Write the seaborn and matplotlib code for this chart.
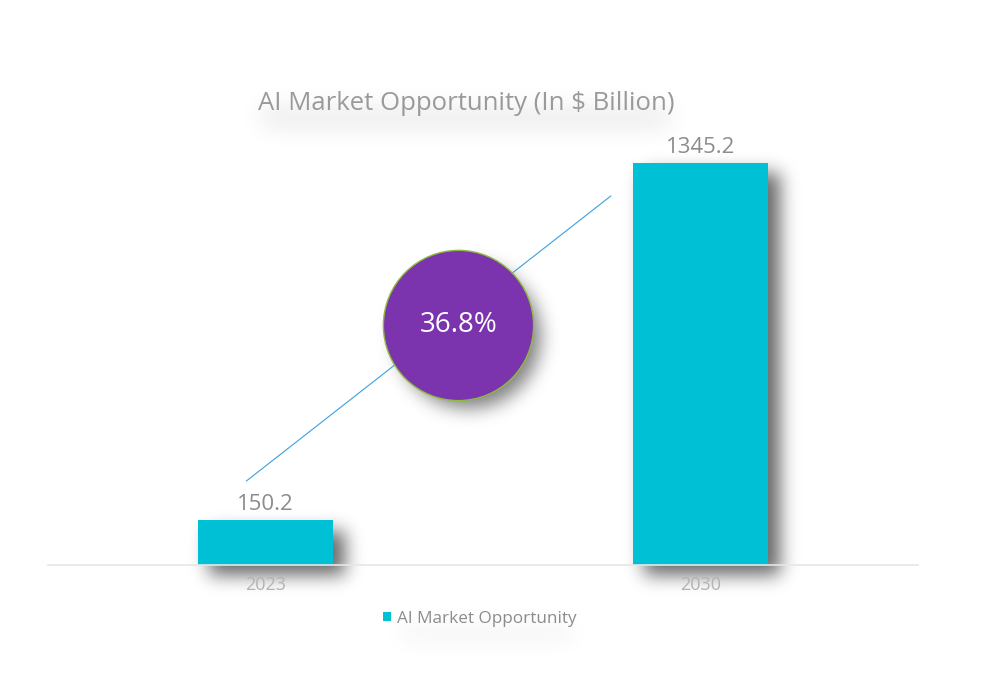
import numpy as np
import pandas as pd
import seaborn as sns
import matplotlib.pyplot as plt

# data
years = ['2023', '2030']
values = [150.2, 1345.2]
series_name = 'AI Market Opportunity'
title = 'AI Market Opportunity (In $ Billion)'
cagr_label = '36.8%'

bar_color = '#00C0D6'

sns.set_theme(style='white')
plt.rcParams['font.family'] = ['Open Sans', 'DejaVu Sans']

df = pd.DataFrame({'year': years, 'value': values})

W, H = 998, 698
fig = plt.figure(figsize=(W / 100, H / 100), dpi=100)
ax = fig.add_axes([48 / W, 133 / H, 870 / W, 505 / H])
ax.patch.set_alpha(0)

sns.barplot(data=df, x='year', y='value', color=bar_color, saturation=1, width=0.312,
            label=series_name, linewidth=0, ax=ax)
ymax = values[1] * 505 / 402
ax.set_xlim(-0.5, 1.5)
ax.set_ylim(0, ymax)

# value labels
for i, v in enumerate(values):
    ax.text(i, v + ymax * 0.01, f'{v:.1f}', ha='center', va='bottom', fontsize=16, color='#8c8c8c')

# growth line and CAGR bubble
line_x = [-0.044, 0.794]
line_y = [281, 1235]
ax.plot(line_x, line_y, color='#3aa0e0', lw=0.8, zorder=3)
bub_x, bub_y = 0.443, 803
ax.scatter([bub_x], [bub_y], s=11700, color='#7B34AD', edgecolor='#8dbb3c', linewidth=1.0, zorder=4)
ax.text(bub_x, bub_y, cagr_label, ha='center', va='center', color='white', fontsize=20, zorder=5)

# axes styling
sns.despine(ax=ax, left=True, top=True, right=True, bottom=False)
ax.spines['bottom'].set_color('#e6e6e6')
ax.spines['bottom'].set_linewidth(1.2)
ax.set_yticks([])
ax.set_xlabel('')
ax.set_ylabel('')
ax.tick_params(axis='x', length=0, pad=8, labelsize=13, labelcolor='#b3b3b3')

leg = ax.legend(loc='upper center', bbox_to_anchor=(0.5 - 0.004, -0.06), frameon=False,
                handlelength=0.5, handleheight=0.5, handletextpad=0.3, fontsize=12.3)
for t in leg.get_texts():
    t.set_color('#8c8c8c')

ttl = fig.text(466 / W, 1 - 103 / H, title, ha='center', va='center', fontsize=18.5, color='#9a9a9a')

# soft drop shadows, built as a blurred mask behind the axes
fig.canvas.draw()
renderer = fig.canvas.get_renderer()


def gblur(a, sigma):
    r = int(3 * sigma)
    k = np.exp(-0.5 * (np.arange(-r, r + 1) / sigma) ** 2)
    k /= k.sum()
    a = np.apply_along_axis(lambda m: np.convolve(m, k, mode='same'), 0, a)
    return np.apply_along_axis(lambda m: np.convolve(m, k, mode='same'), 1, a)


def box_mask(bb, dx, dy, shrink=0):
    m = np.zeros((H, W))
    x0, x1 = int(bb.x0 + dx + shrink), int(bb.x1 + dx - shrink)
    y0, y1 = int(bb.y0 - dy + shrink), int(bb.y1 - dy - shrink)
    m[max(y0, 0):min(y1, H), max(x0, 0):min(x1, W)] = 1
    return m


shadow = np.zeros((H, W))
for p in ax.patches:
    bb = p.get_window_extent(renderer)
    shadow = np.maximum(shadow, 0.6 * gblur(box_mask(bb, 12, 10), 9))

cx, cy = ax.transData.transform((bub_x, bub_y))
yy, xx = np.mgrid[0:H, 0:W]
circ = (((xx - cx - 10) ** 2 + (yy - cy + 12) ** 2) < 72 ** 2).astype(float)
shadow = np.maximum(shadow, 0.5 * gblur(circ, 9))

for t in [ttl] + leg.get_texts():
    bb = t.get_window_extent(renderer)
    shadow = np.maximum(shadow, 0.10 * gblur(box_mask(bb, 0, 14, 4), 12))

rgba = np.zeros((H, W, 4))
rgba[..., 3] = np.clip(shadow, 0, 1)
fig.figimage(rgba, 0, 0, origin='lower', zorder=-1)

fig.savefig('out.png', dpi=100, facecolor='white')
